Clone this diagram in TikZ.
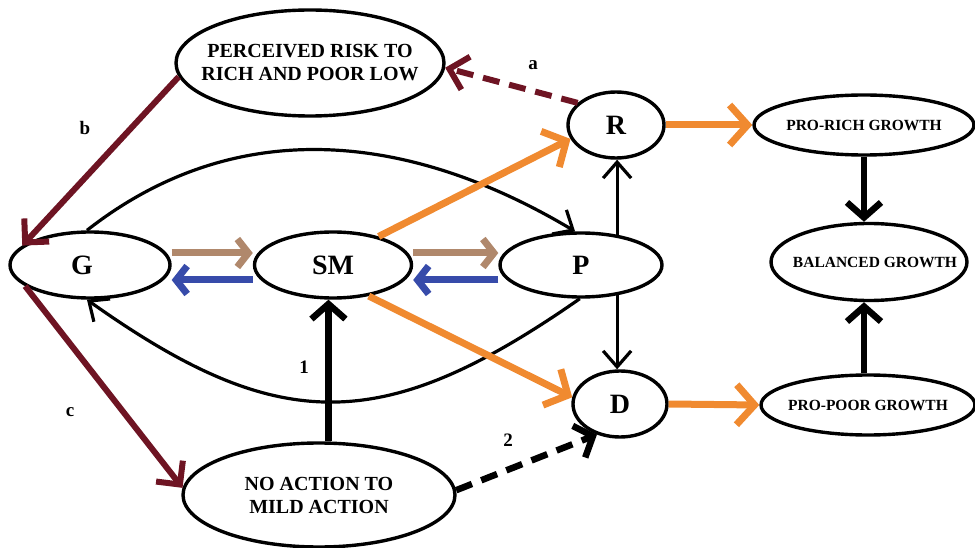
\documentclass[tikz,border=0pt]{standalone}
\usepackage{fontspec}
\setmainfont{Liberation Serif}
\usetikzlibrary{arrows.meta,shapes.geometric}
\definecolor{maroonc}{RGB}{110,20,35}
\definecolor{orngc}{RGB}{240,138,48}
\definecolor{tanc}{RGB}{176,136,108}
\definecolor{bluc}{RGB}{55,75,170}
\begin{document}
\begin{tikzpicture}[x=1pt,y=-1pt,
  ell/.style={draw, ellipse, line width=3.4pt, inner sep=0pt, inner xsep=-30pt, align=center},
  big/.style={font=\fontsize{28}{30}\selectfont\bfseries},
  mid/.style={font=\fontsize{20}{23}\selectfont\bfseries},
  small/.style={font=\fontsize{15.5}{18}\selectfont\bfseries},
  lab/.style={font=\fontsize{19}{21}\selectfont\bfseries},
  thinarrow/.style={line width=3.2pt, -{Straight Barb[length=16pt,width=28pt]}},
  thickarrow/.style={line width=6.5pt, -{Straight Barb[length=15pt,width=34pt]}},
  orarrow/.style={orngc, line width=7pt, -{Straight Barb[length=18pt,width=40pt]}},
  maroonarrow/.style={maroonc, line width=6pt, -{Straight Barb[length=17pt,width=34pt]}},
  tanarrow/.style={tanc, line width=7pt, -{Straight Barb[length=11pt,width=28pt]}},
  bluarrow/.style={bluc, line width=7pt, -{Straight Barb[length=11pt,width=28pt]}},
  dashline/.style={dash pattern=on 17pt off 10pt}
]
\useasboundingbox (0,0) rectangle (975,548);

% nodes
\node[ell, mid, minimum width=268pt, minimum height=106pt] (PR) at (310,63) {PERCEIVED RISK TO\\RICH AND POOR LOW};
\node[ell, big, minimum width=160pt, minimum height=66pt] (G) at (90,265) {G\hspace{16pt}};
\node[ell, big, minimum width=157pt, minimum height=66pt] (SM) at (333,265) {SM};
\node[ell, big, minimum width=162pt, minimum height=64pt] (P) at (581,265) {P};
\node[ell, big, minimum width=96pt, minimum height=66pt] (R) at (616,125) {R};
\node[ell, big, minimum width=94pt, minimum height=66pt] (D) at (620,404) {D};
\node[ell, small, minimum width=220pt, minimum height=60pt] (PRR) at (864,125) {PRO-RICH GROWTH};
\node[ell, small, minimum width=196pt, minimum height=77pt] (BAL) at (869,262) {\hspace{12pt}BALANCED GROWTH};
\node[ell, small, minimum width=214pt, minimum height=60pt] (PPG) at (868,405) {PRO-POOR GROWTH};
\node[ell, mid, minimum width=272pt, minimum height=104pt] (NA) at (319,495) {NO ACTION TO\\MILD ACTION};

% black curves
\draw[thinarrow] (G.95) .. controls (238,112) and (412,134) .. (P.100);
\draw[thinarrow] (P.268) .. controls (383,436) and (279,436) .. (G.265);

% maroon
\draw[maroonarrow] (PR.186) -- (G.164);
\draw[maroonarrow] (G.198) -- (NA.177);
\draw[maroonarrow, dashline] (R.150) -- (PR.358);

% tan / blue
\draw[tanarrow] ([yshift=12pt]G.east) -- ([yshift=12pt]SM.west);
\draw[bluarrow] ([yshift=-15pt]SM.west) -- ([yshift=-15pt]G.east);
\draw[tanarrow] ([yshift=12pt]SM.east) -- ([yshift=12pt]P.west);
\draw[bluarrow] ([yshift=-15pt]P.west) -- ([yshift=-15pt]SM.east);

% orange
\draw[orarrow] (SM.32) -- (R.197);
\draw[orarrow] (SM.319) -- (D.172);
\draw[orarrow] (R.east) -- (PRR.west);
\draw[orarrow] (D.east) -- (PPG.west);

% thin black verticals
\draw[thinarrow] (P.40) -- (P.40 |- R.south);
\draw[thinarrow] (P.-40) -- (P.-40 |- D.north);

% thick black
\draw[thickarrow] (PRR.south) -- (PRR.south |- BAL.north);
\draw[thickarrow] (PPG.north -| PRR.south) -- (PRR.south |- BAL.south);
\draw[thickarrow] (NA.80) -- (NA.80 |- SM.south);
\draw[thickarrow, dashline] (NA.2) -- (D.233);

% labels
\node[lab] (la) at (533,65) {a};
\node[lab] (lb) at (85,128) {b};
\node[lab] (lc) at (70,412) {c};
\node[lab] (l1) at (304,367) {1};
\node[lab] (l2) at (508,440) {2};
\end{tikzpicture}
\end{document}
